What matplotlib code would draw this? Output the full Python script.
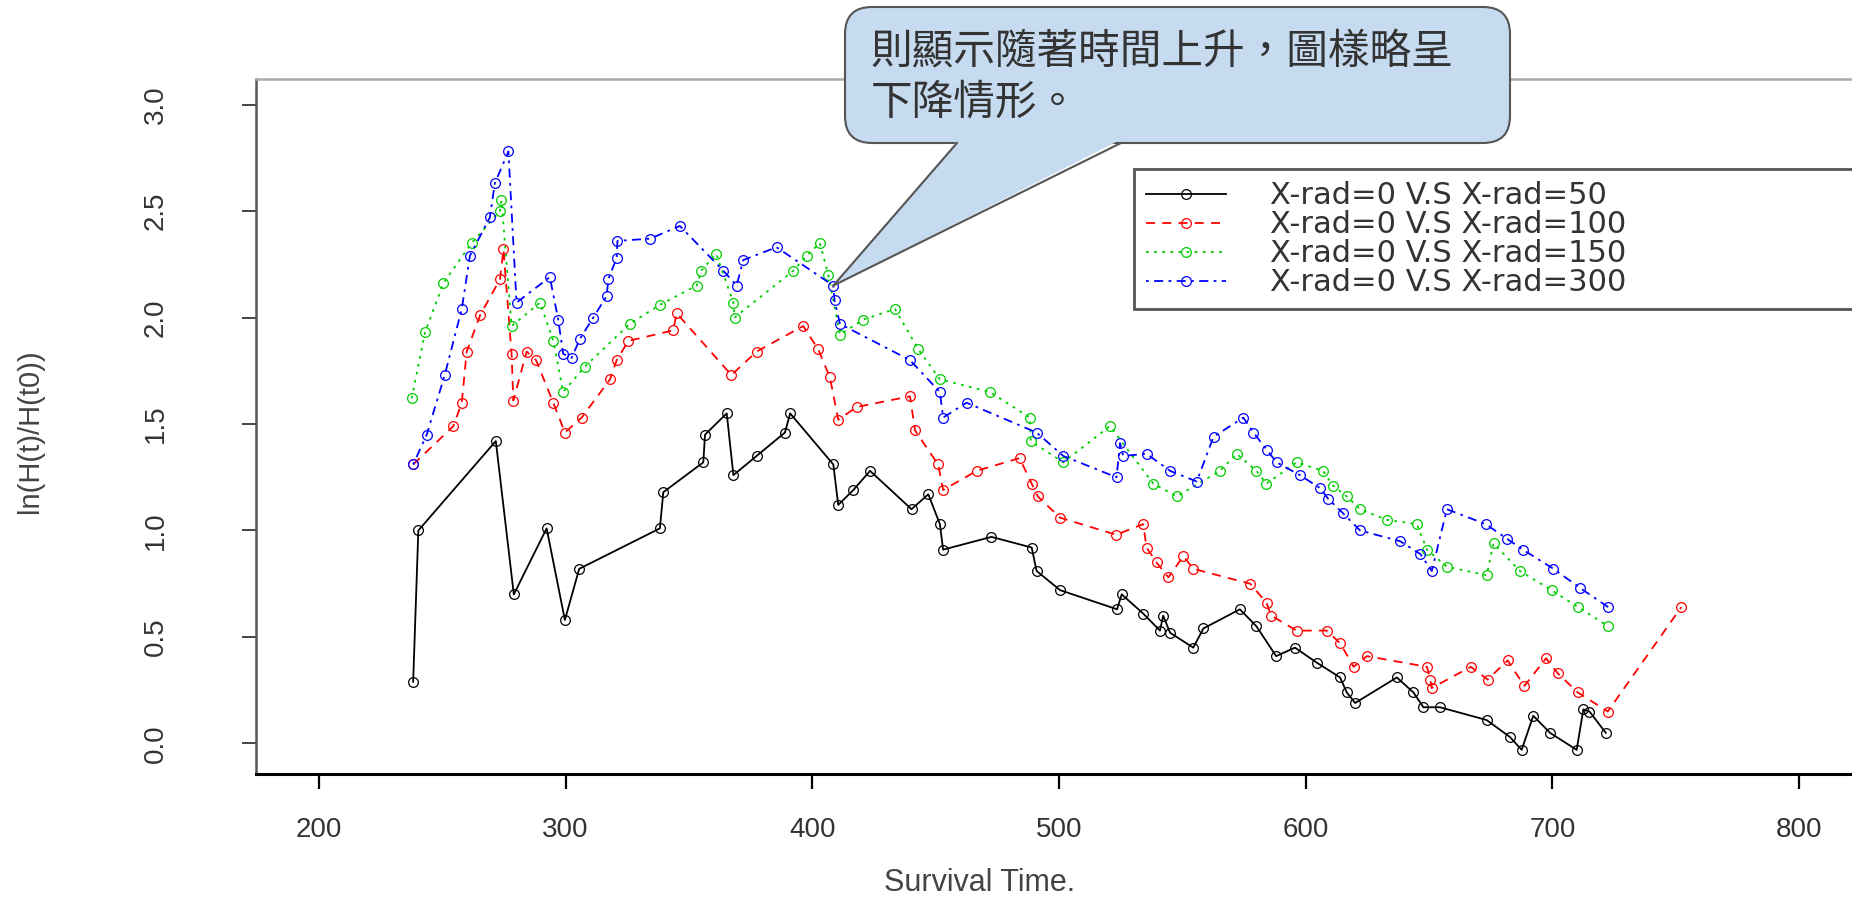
import matplotlib
matplotlib.use('Agg')
import matplotlib.pyplot as plt
from matplotlib.patches import FancyBboxPatch, Polygon
from matplotlib.lines import Line2D
from matplotlib.transforms import IdentityTransform

# black: X-rad=0 V.S X-rad=50
x_50 = [238.2, 240.3, 271.7, 279.0, 292.3, 299.7, 305.5, 338.2, 339.6, 355.8, 356.5, 365.3, 368.0,
        377.4, 388.9, 391.0, 408.5, 410.5, 416.6, 423.4, 440.2, 447.0, 451.7, 453.0, 472.6, 488.9,
        490.9, 500.4, 523.5, 525.4, 534.1, 540.9, 542.2, 545.0, 554.4, 558.5, 573.3, 580.0, 588.0,
        595.6, 604.4, 613.9, 616.6, 620.0, 636.9, 643.6, 647.7, 654.4, 673.3, 682.8, 687.5, 692.2,
        699.0, 709.8, 712.5, 715.0, 721.6]
y_50 = [0.29, 1.00, 1.42, 0.70, 1.01, 0.58, 0.82, 1.01, 1.18, 1.32, 1.45, 1.55, 1.26,
        1.35, 1.46, 1.55, 1.31, 1.12, 1.19, 1.28, 1.10, 1.17, 1.03, 0.91, 0.97, 0.92,
        0.81, 0.72, 0.63, 0.70, 0.61, 0.53, 0.60, 0.52, 0.45, 0.54, 0.63, 0.55, 0.41,
        0.45, 0.38, 0.31, 0.24, 0.19, 0.31, 0.24, 0.17, 0.17, 0.11, 0.03, -0.03, 0.13,
        0.05, -0.03, 0.16, 0.15, 0.05]

# red: X-rad=0 V.S X-rad=100
x_100 = [238.2, 254.5, 257.9, 259.9, 265.3, 273.4, 274.8, 278.1, 278.8, 284.2, 288.0, 295.0, 299.7,
         306.5, 318.0, 320.7, 325.4, 343.6, 345.0, 367.2, 377.4, 396.3, 402.4, 407.1, 410.5, 418.0,
         439.6, 441.6, 451.0, 453.0, 466.6, 484.0, 488.9, 491.4, 500.4, 523.2, 534.1, 535.5, 539.5,
         544.3, 550.4, 554.4, 577.5, 584.1, 586.0, 596.3, 608.5, 614.0, 619.4, 624.8, 649.1, 650.5,
         651.0, 666.9, 673.7, 681.8, 688.6, 697.4, 702.1, 710.2, 722.4, 752.2]
y_100 = [1.31, 1.49, 1.60, 1.84, 2.01, 2.18, 2.32, 1.83, 1.61, 1.84, 1.80, 1.60, 1.46,
         1.53, 1.71, 1.80, 1.89, 1.94, 2.02, 1.73, 1.84, 1.96, 1.85, 1.72, 1.52, 1.58,
         1.63, 1.47, 1.31, 1.19, 1.28, 1.34, 1.22, 1.16, 1.06, 0.98, 1.03, 0.92, 0.85,
         0.78, 0.88, 0.82, 0.75, 0.66, 0.60, 0.53, 0.53, 0.47, 0.36, 0.41, 0.36, 0.30,
         0.26, 0.36, 0.30, 0.39, 0.27, 0.40, 0.33, 0.24, 0.15, 0.64]

# green: X-rad=0 V.S X-rad=150
x_150 = [237.6, 243.0, 250.4, 261.9, 273.4, 274.0, 278.1, 289.6, 295.0, 299.0, 307.8, 326.0, 338.2,
         353.1, 355.0, 361.0, 368.0, 368.5, 392.3, 397.7, 403.0, 406.5, 411.2, 420.6, 433.5, 443.0,
         451.7, 472.0, 488.2, 488.5, 501.7, 520.6, 538.2, 547.7, 565.2, 572.0, 580.0, 584.0, 596.3,
         607.0, 611.1, 616.6, 622.0, 632.8, 645.0, 649.1, 657.2, 673.3, 676.1, 686.8, 699.6, 710.4,
         722.6]
y_150 = [1.62, 1.93, 2.16, 2.35, 2.50, 2.55, 1.96, 2.07, 1.89, 1.65, 1.77, 1.97, 2.06,
         2.15, 2.22, 2.30, 2.07, 2.00, 2.22, 2.29, 2.35, 2.20, 1.92, 1.99, 2.04, 1.85,
         1.71, 1.65, 1.53, 1.42, 1.32, 1.49, 1.22, 1.16, 1.28, 1.36, 1.28, 1.22, 1.32,
         1.28, 1.21, 1.16, 1.10, 1.05, 1.03, 0.91, 0.83, 0.79, 0.94, 0.81, 0.72, 0.64,
         0.55]

# blue: X-rad=0 V.S X-rad=300
x_300 = [238.2, 243.7, 251.0, 257.9, 261.2, 269.3, 271.3, 276.8, 280.1, 293.6, 297.0, 299.0, 302.4,
         305.8, 311.2, 316.6, 317.3, 320.7, 321.0, 334.2, 346.3, 363.9, 369.3, 372.0, 385.5, 408.5,
         409.0, 411.2, 439.6, 451.7, 453.0, 462.5, 490.9, 501.7, 523.3, 524.7, 526.0, 535.5, 545.0,
         555.8, 562.6, 574.7, 578.8, 584.1, 588.2, 597.6, 605.7, 609.0, 615.2, 622.0, 638.2, 646.4,
         651.1, 657.2, 672.9, 681.7, 688.0, 700.4, 711.2, 722.6]
y_300 = [1.31, 1.45, 1.73, 2.04, 2.29, 2.47, 2.63, 2.78, 2.07, 2.19, 1.99, 1.83, 1.81,
         1.90, 2.00, 2.10, 2.18, 2.28, 2.36, 2.37, 2.43, 2.22, 2.15, 2.27, 2.33, 2.15,
         2.08, 1.97, 1.80, 1.65, 1.53, 1.60, 1.46, 1.35, 1.25, 1.41, 1.35, 1.36, 1.28,
         1.23, 1.44, 1.53, 1.46, 1.38, 1.32, 1.26, 1.20, 1.15, 1.08, 1.00, 0.95, 0.89,
         0.81, 1.10, 1.03, 0.96, 0.91, 0.82, 0.73, 0.64]

labels = ['X-rad=0 V.S X-rad=50', 'X-rad=0 V.S X-rad=100',
          'X-rad=0 V.S X-rad=150', 'X-rad=0 V.S X-rad=300']
x_ticks = [200, 300, 400, 500, 600, 700, 800]
y_ticks = [0.0, 0.5, 1.0, 1.5, 2.0, 2.5, 3.0]
note = ['則顯示隨著時間上升，圖樣略呈', '下降情形。']

W, H = 1852, 902
plt.rcParams['font.family'] = ['Liberation Sans', 'DejaVu Sans']

fig = plt.figure(figsize=(W / 100, H / 100), dpi=100)
ax = fig.add_axes([256 / W, 1 - 773.5 / H, 1 - 256 / W, (773.5 - 79) / H])

series = [
    (x_50, y_50, 'black', '-', None),
    (x_100, y_100, '#ff0000', '--', (5, 4)),
    (x_150, y_150, '#00cd00', ':', (1.5, 3)),
    (x_300, y_300, '#0000ff', '-.', (1.5, 3, 5, 3)),
]
for (xs, ys, col, ls, dash), lab in zip(series, labels):
    line, = ax.plot(xs, ys, color=col, lw=1.3, marker='o', ms=7, mfc='none',
                    mew=0.9, label=lab)
    if dash:
        line.set_dashes(dash)

ax.set_xlim(174.5, 821.4)
ax.set_ylim(-0.141, 3.12)
ax.set_xticks(x_ticks)
ax.set_xticklabels([str(t) for t in x_ticks], fontsize=20, color='#333333')
ax.set_yticks(y_ticks)
ax.set_yticklabels(['%.1f' % t for t in y_ticks], fontsize=20, color='#333333',
                   rotation=90, va='center')
ax.tick_params(axis='x', direction='out', length=11, width=1.6, pad=20, colors='black')
ax.tick_params(axis='y', direction='out', length=10, width=1.4, pad=53, colors='#444444')
for t in ax.get_xticklabels() + ax.get_yticklabels():
    t.set_color('#333333')

ax.spines['right'].set_visible(False)
ax.spines['left'].set_color('#555555')
ax.spines['left'].set_linewidth(1.8)
ax.spines['top'].set_color('#aaaaaa')
ax.spines['top'].set_linewidth(1.8)
ax.spines['bottom'].set_color('black')
ax.spines['bottom'].set_linewidth(2.2)

ax.set_xlabel('Survival Time.', fontsize=22, color='#444444', va='center')
ax.xaxis.set_label_coords((980 - 256) / 1596, (773.5 - 883) / 694.5)
ax.set_ylabel('ln(H(t)/H(t0))', fontsize=21, color='#444444', va='center')
ax.yaxis.set_label_coords((30 - 256) / 1596, (773.5 - 431) / 694.5)

leg = ax.legend(loc='upper left', bbox_to_anchor=(1134 / W, 0, 0.45, 1 - 169 / H),
                bbox_transform=fig.transFigure, mode='expand', borderaxespad=0,
                fancybox=False, framealpha=1, edgecolor='#555555',
                prop={'family': 'DejaVu Sans', 'size': 22}, handlelength=2.6,
                handletextpad=1.45, borderpad=0.4, labelspacing=0.0)
leg.get_frame().set_linewidth(2)
for t in leg.get_texts():
    t.set_color('#333333')

# callout bubble (pixel coords, origin top-left)
def px(x, y):
    return (x, H - y)

ident = IdentityTransform()
bx0, by0, bx1, by1 = 845, 7, 1510, 143
bubble = FancyBboxPatch(px(bx0, by1), bx1 - bx0, by1 - by0,
                        boxstyle='round,pad=0,rounding_size=27',
                        transform=ident, facecolor='#c6dbef', edgecolor='#555555',
                        lw=1.5, zorder=5)
fig.add_artist(bubble)

tip = ax.transData.transform((x_300[25], y_300[25]))
base_l, base_r = px(957, 143), px(1121, 143)
tail = Polygon([(base_l[0] + 1, base_l[1] + 3), tuple(tip), (base_r[0] - 1, base_r[1] + 3)],
               closed=True, transform=ident, facecolor='#c6dbef', edgecolor='none', zorder=6)
fig.add_artist(tail)
for b in (base_l, base_r):
    fig.add_artist(Line2D([b[0], tip[0]], [b[1], tip[1]], transform=ident,
                          color='#555555', lw=1.5, zorder=7))

for i, s in enumerate(note):
    fig.text(871 / W, 1 - (52 + 51 * i) / H, s, fontsize=30, color='#333333',
             family=['Noto Sans CJK TC', 'DejaVu Sans'], va='center', ha='left', zorder=8)

fig.savefig('out.png', dpi=100)
